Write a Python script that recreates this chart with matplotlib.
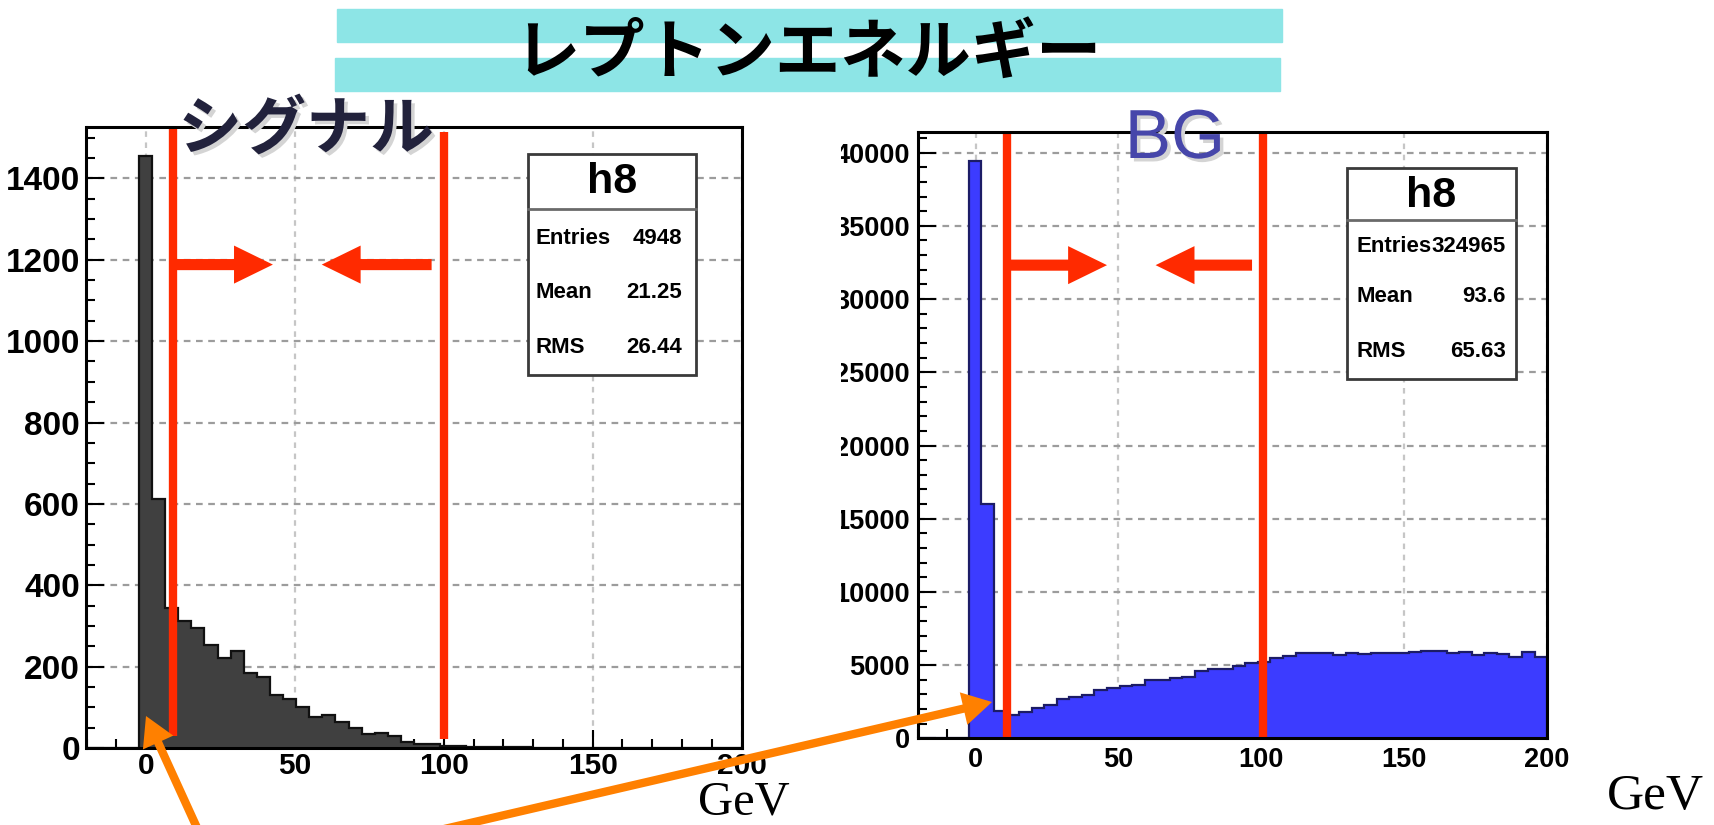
import numpy as np
import matplotlib
matplotlib.use("Agg")
import matplotlib.pyplot as plt
from matplotlib.patches import Rectangle, FancyArrowPatch
from matplotlib.lines import Line2D
from matplotlib.transforms import Bbox, TransformedBbox
from matplotlib.ticker import MultipleLocator
import matplotlib.patheffects as pe

W, H = 1715, 825
JP = ['Noto Sans CJK JP', 'DejaVu Sans']
SANS = 'Liberation Sans'
SERIF = 'Liberation Serif'

# ---- text ----
title = 'レプトンエネルギー'
signal_label = 'シグナル'
bg_label = 'BG'
unit_label = 'GeV'
hist_name = 'h8'
stat_names = ['Entries', 'Mean', 'RMS']
signal_stats = ['4948', '21.25', '26.44']
bg_stats = ['324965', '93.6', '65.63']

# ---- histograms: 50 bins from -20 to 200 GeV ----
bin_edges = np.linspace(-20, 200, 51)
signal_counts = [0, 0, 0, 0, 1455, 613, 345, 312, 295, 254,
                 221, 238, 184, 176, 131, 120, 102, 77, 81, 65,
                 49, 35, 38, 30, 16, 10, 10, 6, 5, 4,
                 4, 3, 2, 2, 1, 1, 1, 0, 0, 0,
                 0, 0, 0, 0, 0, 0, 0, 0, 0, 0]
bg_counts = [0, 0, 0, 0, 39400, 16000, 1850, 1600, 1830, 2050,
             2280, 2670, 2850, 2960, 3300, 3420, 3580, 3650, 3990, 3990,
             4100, 4170, 4600, 4740, 4740, 4950, 5150, 5240, 5470, 5630,
             5855, 5860, 5850, 5720, 5860, 5760, 5860, 5850, 5860, 5870,
             5980, 5990, 5830, 5900, 5720, 5850, 5740, 5560, 5930, 5560]

# cut window
signal_cuts = [9.2, 100]
bg_cuts = [11, 100.5]

RED = '#ff2a00'
ORANGE = '#ff8000'


def fx(x):
    return x / W


def fy(y):
    return 1 - y / H


fig = plt.figure(figsize=(W / 100, H / 100), dpi=100)
fig.patch.set_facecolor('white')


def style_axes(ax, ylim, ymajor, yminor, xsize, ysize, xpad, ypad):
    ax.set_xlim(-20, 200)
    ax.set_ylim(*ylim)
    ax.xaxis.set_major_locator(MultipleLocator(50))
    ax.xaxis.set_minor_locator(MultipleLocator(10))
    ax.yaxis.set_major_locator(MultipleLocator(ymajor))
    ax.yaxis.set_minor_locator(MultipleLocator(yminor))
    ax.tick_params(which='both', direction='in', top=False, right=False,
                   width=1.5, color='black')
    ax.tick_params(which='major', length=13)
    ax.tick_params(which='minor', length=6.5)
    ax.tick_params(axis='x', labelsize=xsize, pad=xpad)
    ax.tick_params(axis='y', labelsize=ysize, pad=ypad)
    for lab in ax.get_xticklabels() + ax.get_yticklabels():
        lab.set_fontweight('bold')
        lab.set_fontfamily(SANS)
    for s in ax.spines.values():
        s.set_linewidth(2.2)
        s.set_zorder(5)
    # dashed grid behind the histogram
    for xv in np.arange(0, 201, 50):
        ax.axvline(xv, color='#c6c6c6', lw=1.6, ls=(0, (2.5, 2.5)), zorder=0.5)
    for yv in np.arange(ymajor, ylim[1], ymajor):
        ax.axhline(yv, color='#9c9c9c', lw=1.6, ls=(0, (3, 2.5)), zorder=0.5)


def draw_hist(ax, counts, face, edge):
    ax.stairs(counts, bin_edges, fill=True, facecolor=face, edgecolor='none', zorder=2)
    ax.stairs(counts, bin_edges, color=edge, lw=1.6, zorder=2.1)


def draw_cuts(ax, cuts, y0s, y1s, yarrow, tips):
    for c, a, b in zip(cuts, y0s, y1s):
        ax.plot([c, c], [a, b], color=RED, lw=6, solid_capstyle='butt',
                zorder=4, clip_on=False)
    tails = [cuts[0], cuts[1] - (cuts[1] - tips[1]) * 0.1]
    for tail, tip in zip(tails, tips):
        ax.annotate('', xy=(tip, yarrow), xytext=(tail, yarrow),
                    arrowprops=dict(arrowstyle='simple,head_length=1.4,head_width=1.37,tail_width=0.4',
                                    mutation_scale=20, lw=0, color=RED,
                                    shrinkA=0, shrinkB=0),
                    zorder=4)


# ---- signal panel ----
ax1 = fig.add_axes([fx(86.5), fy(748.2), (741.6 - 86.5) / W, (748.2 - 127) / H])
style_axes(ax1, (0, 1526), 200, 50, 21.5, 24, 2.5, 4.7)
draw_hist(ax1, signal_counts, '#404040', '#111111')
draw_cuts(ax1, signal_cuts, [30, 22], [1521, 1513], 1188, [42.6, 59])

# ---- background panel ----
ax2 = fig.add_axes([fx(918.4), fy(738.4), (1547.1 - 918.4) / W, (738.4 - 132.1) / H])
style_axes(ax2, (0, 41400), 5000, 1000, 19.5, 19.5, 6.5, 6.3)
draw_hist(ax2, bg_counts, '#3c3cff', '#1c1c66')
draw_cuts(ax2, bg_cuts, [0, 0], [41400, 41400], 32315, [46, 63])

# y labels of this panel are cut on their left edge
clip = TransformedBbox(Bbox.from_extents(fx(841), 0, 1, 1), fig.transFigure)
for t in ax2.yaxis.get_major_ticks():
    t.label1.set_clip_on(True)
    t.label1.set_clip_box(clip)


# ---- statistics boxes ----
def stats_box(x0, y0, x1, y1, ysep, yh8, rows_y, xl, xr, values):
    fig.add_artist(Rectangle((fx(x0), fy(y1)), (x1 - x0) / W, (y1 - y0) / H,
                             transform=fig.transFigure, facecolor='white',
                             edgecolor='#3a3a3a', lw=2.0, zorder=6))
    fig.add_artist(Line2D([fx(x0), fx(x1)], [fy(ysep), fy(ysep)],
                          transform=fig.transFigure, color='#6a6a6a', lw=2.0, zorder=7))
    fig.text(fx((x0 + x1) / 2), fy(yh8), hist_name, ha='center', va='center',
             fontsize=31, fontweight='bold', family=SANS, zorder=8)
    for name, val, ry in zip(stat_names, values, rows_y):
        fig.text(fx(xl), fy(ry), name, ha='left', va='center', fontsize=16,
                 fontweight='bold', family=SANS, zorder=8)
        fig.text(fx(xr), fy(ry), val, ha='right', va='center', fontsize=16,
                 fontweight='bold', family=SANS, zorder=8)


stats_box(528, 153.6, 696, 374.6, 208.5, 182, [238, 293, 347], 535.6, 682.5, signal_stats)
stats_box(1347.4, 167.9, 1515.6, 379, 219.6, 196, [247, 297, 351], 1357, 1506, bg_stats)

# ---- title banner ----
fig.add_artist(Rectangle((fx(337), fy(41.7)), (1282 - 337) / W, 32.4 / H,
                         transform=fig.transFigure, color='#8de5e6', zorder=1))
fig.add_artist(Rectangle((fx(335), fy(90.7)), (1280 - 335) / W, 33 / H,
                         transform=fig.transFigure, color='#8de5e6', zorder=1))
fig.text(fx(808), fy(53), title, ha='center', va='center', fontsize=47,
         fontweight='bold', family=JP, zorder=3)

# ---- panel labels ----
shadow = [pe.SimplePatchShadow(offset=(2.5, -2.5), shadow_rgbFace='#d4d4d4', alpha=1),
          pe.Normal()]
fig.text(fx(306), fy(130), signal_label, ha='center', va='center', fontsize=46,
         fontweight='bold', family=JP, color='#22223c', zorder=9, path_effects=shadow)
fig.text(fx(1175), fy(140), bg_label, ha='center', va='center', fontsize=50,
         family=SANS, color='#4646aa', zorder=9, path_effects=shadow)

fig.text(fx(744), fy(802.8), unit_label, ha='center', va='center', fontsize=35,
         family=SERIF, zorder=9)
fig.text(fx(1655), fy(797), unit_label, ha='center', va='center', fontsize=37,
         family=SERIF, zorder=9)

# ---- orange pointers to the low-energy peak ----
for start, end in [((198, 830), (146, 716)), ((440, 830), (992, 702))]:
    fig.add_artist(FancyArrowPatch((fx(start[0]), fy(start[1])), (fx(end[0]), fy(end[1])),
                                   transform=fig.transFigure,
                                   arrowstyle='simple,head_length=1.05,head_width=1.2,tail_width=0.3',
                                   mutation_scale=20, lw=0, color=ORANGE,
                                   shrinkA=0, shrinkB=0, zorder=10))

fig.savefig('out.png', dpi=100, facecolor='white')
